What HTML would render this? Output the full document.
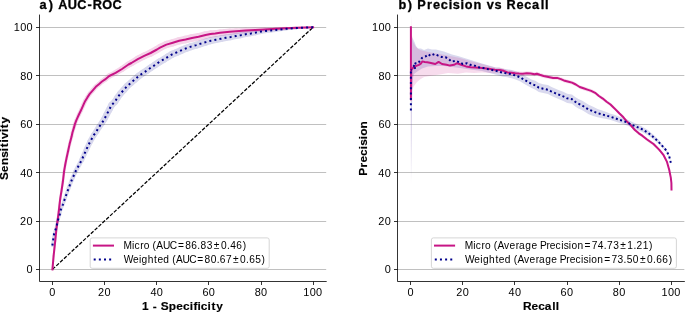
<!DOCTYPE html>
<html><head><meta charset="utf-8"><style>
html,body{margin:0;padding:0;background:#fff;width:685px;height:312px;overflow:hidden}
svg{display:block;will-change:transform}
text{font-family:"Liberation Sans",sans-serif}
</style></head><body>
<svg width="685" height="312" viewBox="0 0 685 312">
<rect width="685" height="312" fill="#fff"/>
<defs>
<clipPath id="cl"><rect x="39.42" y="15.07" width="286.77" height="266.44"/></clipPath>
<clipPath id="cr"><rect x="397.56" y="15.07" width="286.77" height="266.44"/></clipPath>
</defs>
<line x1="39.50" x2="326.19" y1="269.50" y2="269.50" stroke="#b0b0b0" stroke-width="0.8"/>
<line x1="397.50" x2="684.34" y1="269.50" y2="269.50" stroke="#b0b0b0" stroke-width="0.8"/>
<line x1="39.50" x2="326.19" y1="221.50" y2="221.50" stroke="#b0b0b0" stroke-width="0.8"/>
<line x1="397.50" x2="684.34" y1="221.50" y2="221.50" stroke="#b0b0b0" stroke-width="0.8"/>
<line x1="39.50" x2="326.19" y1="172.50" y2="172.50" stroke="#b0b0b0" stroke-width="0.8"/>
<line x1="397.50" x2="684.34" y1="172.50" y2="172.50" stroke="#b0b0b0" stroke-width="0.8"/>
<line x1="39.50" x2="326.19" y1="124.50" y2="124.50" stroke="#b0b0b0" stroke-width="0.8"/>
<line x1="397.50" x2="684.34" y1="124.50" y2="124.50" stroke="#b0b0b0" stroke-width="0.8"/>
<line x1="39.50" x2="326.19" y1="75.50" y2="75.50" stroke="#b0b0b0" stroke-width="0.8"/>
<line x1="397.50" x2="684.34" y1="75.50" y2="75.50" stroke="#b0b0b0" stroke-width="0.8"/>
<line x1="39.50" x2="326.19" y1="27.50" y2="27.50" stroke="#b0b0b0" stroke-width="0.8"/>
<line x1="397.50" x2="684.34" y1="27.50" y2="27.50" stroke="#b0b0b0" stroke-width="0.8"/>
<g clip-path="url(#cl)">
<g opacity="0.18">
<line x1="52.45" y1="269.40" x2="53.60" y2="256.00" stroke="#C71585" stroke-width="2.05" stroke-linecap="round"/>
<line x1="53.60" y1="256.00" x2="55.20" y2="241.20" stroke="#C71585" stroke-width="2.12" stroke-linecap="round"/>
<line x1="55.20" y1="241.20" x2="56.40" y2="229.10" stroke="#C71585" stroke-width="2.19" stroke-linecap="round"/>
<line x1="56.40" y1="229.10" x2="57.50" y2="221.00" stroke="#C71585" stroke-width="2.25" stroke-linecap="round"/>
<line x1="57.50" y1="221.00" x2="58.70" y2="211.80" stroke="#C71585" stroke-width="2.31" stroke-linecap="round"/>
<line x1="58.70" y1="211.80" x2="59.30" y2="206.60" stroke="#C71585" stroke-width="2.35" stroke-linecap="round"/>
<line x1="59.30" y1="206.60" x2="60.20" y2="198.80" stroke="#C71585" stroke-width="2.39" stroke-linecap="round"/>
<line x1="60.20" y1="198.80" x2="61.50" y2="190.80" stroke="#C71585" stroke-width="2.47" stroke-linecap="round"/>
<line x1="61.50" y1="190.80" x2="62.90" y2="181.50" stroke="#C71585" stroke-width="2.58" stroke-linecap="round"/>
<line x1="62.90" y1="181.50" x2="64.10" y2="171.20" stroke="#C71585" stroke-width="2.68" stroke-linecap="round"/>
<line x1="64.10" y1="171.20" x2="65.20" y2="164.80" stroke="#C71585" stroke-width="2.77" stroke-linecap="round"/>
<line x1="65.20" y1="164.80" x2="66.60" y2="157.90" stroke="#C71585" stroke-width="2.87" stroke-linecap="round"/>
<line x1="66.60" y1="157.90" x2="68.10" y2="151.00" stroke="#C71585" stroke-width="2.99" stroke-linecap="round"/>
<line x1="68.10" y1="151.00" x2="69.60" y2="144.10" stroke="#C71585" stroke-width="3.11" stroke-linecap="round"/>
<line x1="69.60" y1="144.10" x2="71.60" y2="136.60" stroke="#C71585" stroke-width="3.25" stroke-linecap="round"/>
<line x1="71.60" y1="136.60" x2="72.40" y2="132.80" stroke="#C71585" stroke-width="3.36" stroke-linecap="round"/>
<line x1="72.40" y1="132.80" x2="74.10" y2="127.10" stroke="#C71585" stroke-width="3.46" stroke-linecap="round"/>
<line x1="74.10" y1="127.10" x2="74.90" y2="124.20" stroke="#C71585" stroke-width="3.56" stroke-linecap="round"/>
<line x1="74.90" y1="124.20" x2="76.40" y2="120.10" stroke="#C71585" stroke-width="3.65" stroke-linecap="round"/>
<line x1="76.40" y1="120.10" x2="78.70" y2="115.00" stroke="#C71585" stroke-width="3.80" stroke-linecap="round"/>
<line x1="78.70" y1="115.00" x2="81.00" y2="110.30" stroke="#C71585" stroke-width="3.99" stroke-linecap="round"/>
<line x1="81.00" y1="110.30" x2="83.30" y2="105.20" stroke="#C71585" stroke-width="4.09" stroke-linecap="round"/>
<line x1="83.30" y1="105.20" x2="85.10" y2="101.20" stroke="#C71585" stroke-width="4.17" stroke-linecap="round"/>
<line x1="85.10" y1="101.20" x2="87.40" y2="97.40" stroke="#C71585" stroke-width="4.25" stroke-linecap="round"/>
<line x1="87.40" y1="97.40" x2="89.70" y2="93.90" stroke="#C71585" stroke-width="4.34" stroke-linecap="round"/>
<line x1="89.70" y1="93.90" x2="92.80" y2="90.30" stroke="#C71585" stroke-width="4.45" stroke-linecap="round"/>
<line x1="92.80" y1="90.30" x2="95.80" y2="86.80" stroke="#C71585" stroke-width="4.57" stroke-linecap="round"/>
<line x1="95.80" y1="86.80" x2="98.90" y2="84.20" stroke="#C71585" stroke-width="4.69" stroke-linecap="round"/>
<line x1="98.90" y1="84.20" x2="102.00" y2="81.50" stroke="#C71585" stroke-width="4.82" stroke-linecap="round"/>
<line x1="102.00" y1="81.50" x2="105.10" y2="79.40" stroke="#C71585" stroke-width="4.94" stroke-linecap="round"/>
<line x1="105.10" y1="79.40" x2="109.20" y2="76.00" stroke="#C71585" stroke-width="5.09" stroke-linecap="round"/>
<line x1="109.20" y1="76.00" x2="115.60" y2="72.80" stroke="#C71585" stroke-width="5.34" stroke-linecap="round"/>
<line x1="115.60" y1="72.80" x2="122.00" y2="69.00" stroke="#C71585" stroke-width="5.73" stroke-linecap="round"/>
<line x1="122.00" y1="69.00" x2="128.50" y2="64.50" stroke="#C71585" stroke-width="6.12" stroke-linecap="round"/>
<line x1="128.50" y1="64.50" x2="131.40" y2="63.00" stroke="#C71585" stroke-width="6.40" stroke-linecap="round"/>
<line x1="131.40" y1="63.00" x2="137.80" y2="59.10" stroke="#C71585" stroke-width="6.68" stroke-linecap="round"/>
<line x1="137.80" y1="59.10" x2="144.20" y2="55.90" stroke="#C71585" stroke-width="7.01" stroke-linecap="round"/>
<line x1="144.20" y1="55.90" x2="150.60" y2="53.00" stroke="#C71585" stroke-width="7.07" stroke-linecap="round"/>
<line x1="150.60" y1="53.00" x2="157.00" y2="49.50" stroke="#C71585" stroke-width="7.14" stroke-linecap="round"/>
<line x1="157.00" y1="49.50" x2="160.00" y2="47.60" stroke="#C71585" stroke-width="7.18" stroke-linecap="round"/>
<line x1="160.00" y1="47.60" x2="166.40" y2="44.60" stroke="#C71585" stroke-width="7.23" stroke-linecap="round"/>
<line x1="166.40" y1="44.60" x2="172.80" y2="42.70" stroke="#C71585" stroke-width="7.30" stroke-linecap="round"/>
<line x1="172.80" y1="42.70" x2="179.20" y2="40.80" stroke="#C71585" stroke-width="7.36" stroke-linecap="round"/>
<line x1="179.20" y1="40.80" x2="185.60" y2="39.50" stroke="#C71585" stroke-width="7.42" stroke-linecap="round"/>
<line x1="185.60" y1="39.50" x2="192.00" y2="38.00" stroke="#C71585" stroke-width="7.49" stroke-linecap="round"/>
<line x1="192.00" y1="38.00" x2="198.50" y2="36.80" stroke="#C71585" stroke-width="7.55" stroke-linecap="round"/>
<line x1="198.50" y1="36.80" x2="205.60" y2="35.00" stroke="#C71585" stroke-width="7.50" stroke-linecap="round"/>
<line x1="205.60" y1="35.00" x2="210.40" y2="34.00" stroke="#C71585" stroke-width="7.20" stroke-linecap="round"/>
<line x1="210.40" y1="34.00" x2="215.20" y2="33.50" stroke="#C71585" stroke-width="6.96" stroke-linecap="round"/>
<line x1="215.20" y1="33.50" x2="220.00" y2="32.80" stroke="#C71585" stroke-width="6.72" stroke-linecap="round"/>
<line x1="220.00" y1="32.80" x2="224.80" y2="32.20" stroke="#C71585" stroke-width="6.48" stroke-linecap="round"/>
<line x1="224.80" y1="32.20" x2="229.70" y2="31.70" stroke="#C71585" stroke-width="6.24" stroke-linecap="round"/>
<line x1="229.70" y1="31.70" x2="236.00" y2="31.20" stroke="#C71585" stroke-width="5.96" stroke-linecap="round"/>
<line x1="236.00" y1="31.20" x2="245.60" y2="30.40" stroke="#C71585" stroke-width="5.55" stroke-linecap="round"/>
<line x1="245.60" y1="30.40" x2="255.20" y2="29.90" stroke="#C71585" stroke-width="4.91" stroke-linecap="round"/>
<line x1="255.20" y1="29.90" x2="264.80" y2="29.40" stroke="#C71585" stroke-width="4.27" stroke-linecap="round"/>
<line x1="264.80" y1="29.40" x2="276.00" y2="28.70" stroke="#C71585" stroke-width="3.57" stroke-linecap="round"/>
<line x1="276.00" y1="28.70" x2="286.30" y2="28.20" stroke="#C71585" stroke-width="2.86" stroke-linecap="round"/>
<line x1="286.30" y1="28.20" x2="296.50" y2="27.80" stroke="#C71585" stroke-width="2.17" stroke-linecap="round"/>
<line x1="296.50" y1="27.80" x2="306.80" y2="27.40" stroke="#C71585" stroke-width="1.45" stroke-linecap="round"/>
<line x1="306.80" y1="27.40" x2="313.10" y2="27.20" stroke="#C71585" stroke-width="0.68" stroke-linecap="round"/>
</g>
<g opacity="0.15">
<line x1="52.35" y1="245.50" x2="53.30" y2="238.90" stroke="#00008B" stroke-width="2.83" stroke-linecap="round"/>
<line x1="53.30" y1="238.90" x2="54.10" y2="233.90" stroke="#00008B" stroke-width="2.87" stroke-linecap="round"/>
<line x1="54.10" y1="233.90" x2="56.00" y2="228.30" stroke="#00008B" stroke-width="2.92" stroke-linecap="round"/>
<line x1="56.00" y1="228.30" x2="57.10" y2="223.70" stroke="#00008B" stroke-width="2.98" stroke-linecap="round"/>
<line x1="57.10" y1="223.70" x2="58.30" y2="219.00" stroke="#00008B" stroke-width="3.03" stroke-linecap="round"/>
<line x1="58.30" y1="219.00" x2="59.80" y2="214.50" stroke="#00008B" stroke-width="3.08" stroke-linecap="round"/>
<line x1="59.80" y1="214.50" x2="60.90" y2="209.50" stroke="#00008B" stroke-width="3.13" stroke-linecap="round"/>
<line x1="60.90" y1="209.50" x2="62.90" y2="204.50" stroke="#00008B" stroke-width="3.20" stroke-linecap="round"/>
<line x1="62.90" y1="204.50" x2="64.50" y2="199.80" stroke="#00008B" stroke-width="3.36" stroke-linecap="round"/>
<line x1="64.50" y1="199.80" x2="66.20" y2="195.00" stroke="#00008B" stroke-width="3.51" stroke-linecap="round"/>
<line x1="66.20" y1="195.00" x2="68.30" y2="189.00" stroke="#00008B" stroke-width="3.68" stroke-linecap="round"/>
<line x1="68.30" y1="189.00" x2="71.80" y2="180.00" stroke="#00008B" stroke-width="3.94" stroke-linecap="round"/>
<line x1="71.80" y1="180.00" x2="75.50" y2="171.50" stroke="#00008B" stroke-width="4.28" stroke-linecap="round"/>
<line x1="75.50" y1="171.50" x2="81.70" y2="160.00" stroke="#00008B" stroke-width="4.69" stroke-linecap="round"/>
<line x1="81.70" y1="160.00" x2="86.50" y2="149.20" stroke="#00008B" stroke-width="5.13" stroke-linecap="round"/>
<line x1="86.50" y1="149.20" x2="90.20" y2="141.50" stroke="#00008B" stroke-width="5.47" stroke-linecap="round"/>
<line x1="90.20" y1="141.50" x2="93.80" y2="135.10" stroke="#00008B" stroke-width="5.70" stroke-linecap="round"/>
<line x1="93.80" y1="135.10" x2="96.30" y2="131.60" stroke="#00008B" stroke-width="5.85" stroke-linecap="round"/>
<line x1="96.30" y1="131.60" x2="98.90" y2="127.20" stroke="#00008B" stroke-width="5.98" stroke-linecap="round"/>
<line x1="98.90" y1="127.20" x2="101.80" y2="123.20" stroke="#00008B" stroke-width="6.12" stroke-linecap="round"/>
<line x1="101.80" y1="123.20" x2="104.30" y2="119.10" stroke="#00008B" stroke-width="6.25" stroke-linecap="round"/>
<line x1="104.30" y1="119.10" x2="106.80" y2="114.30" stroke="#00008B" stroke-width="6.38" stroke-linecap="round"/>
<line x1="106.80" y1="114.30" x2="109.20" y2="109.80" stroke="#00008B" stroke-width="6.50" stroke-linecap="round"/>
<line x1="109.20" y1="109.80" x2="111.50" y2="105.20" stroke="#00008B" stroke-width="6.60" stroke-linecap="round"/>
<line x1="111.50" y1="105.20" x2="114.90" y2="101.80" stroke="#00008B" stroke-width="6.62" stroke-linecap="round"/>
<line x1="114.90" y1="101.80" x2="117.60" y2="97.40" stroke="#00008B" stroke-width="6.64" stroke-linecap="round"/>
<line x1="117.60" y1="97.40" x2="120.50" y2="93.60" stroke="#00008B" stroke-width="6.66" stroke-linecap="round"/>
<line x1="120.50" y1="93.60" x2="124.00" y2="89.70" stroke="#00008B" stroke-width="6.68" stroke-linecap="round"/>
<line x1="124.00" y1="89.70" x2="127.20" y2="86.00" stroke="#00008B" stroke-width="6.70" stroke-linecap="round"/>
<line x1="127.20" y1="86.00" x2="130.80" y2="83.00" stroke="#00008B" stroke-width="6.73" stroke-linecap="round"/>
<line x1="130.80" y1="83.00" x2="134.60" y2="79.60" stroke="#00008B" stroke-width="6.75" stroke-linecap="round"/>
<line x1="134.60" y1="79.60" x2="138.50" y2="76.20" stroke="#00008B" stroke-width="6.78" stroke-linecap="round"/>
<line x1="138.50" y1="76.20" x2="142.70" y2="73.20" stroke="#00008B" stroke-width="6.80" stroke-linecap="round"/>
<line x1="142.70" y1="73.20" x2="146.80" y2="70.60" stroke="#00008B" stroke-width="6.83" stroke-linecap="round"/>
<line x1="146.80" y1="70.60" x2="150.60" y2="67.80" stroke="#00008B" stroke-width="6.86" stroke-linecap="round"/>
<line x1="150.60" y1="67.80" x2="155.10" y2="64.90" stroke="#00008B" stroke-width="6.89" stroke-linecap="round"/>
<line x1="155.10" y1="64.90" x2="159.40" y2="61.90" stroke="#00008B" stroke-width="6.92" stroke-linecap="round"/>
<line x1="159.40" y1="61.90" x2="163.80" y2="59.40" stroke="#00008B" stroke-width="6.94" stroke-linecap="round"/>
<line x1="163.80" y1="59.40" x2="168.00" y2="56.80" stroke="#00008B" stroke-width="6.97" stroke-linecap="round"/>
<line x1="168.00" y1="56.80" x2="172.20" y2="54.30" stroke="#00008B" stroke-width="7.00" stroke-linecap="round"/>
<line x1="172.20" y1="54.30" x2="176.70" y2="52.40" stroke="#00008B" stroke-width="7.03" stroke-linecap="round"/>
<line x1="176.70" y1="52.40" x2="181.20" y2="50.40" stroke="#00008B" stroke-width="7.06" stroke-linecap="round"/>
<line x1="181.20" y1="50.40" x2="186.30" y2="48.30" stroke="#00008B" stroke-width="7.09" stroke-linecap="round"/>
<line x1="186.30" y1="48.30" x2="191.00" y2="46.60" stroke="#00008B" stroke-width="7.12" stroke-linecap="round"/>
<line x1="191.00" y1="46.60" x2="196.30" y2="45.10" stroke="#00008B" stroke-width="7.16" stroke-linecap="round"/>
<line x1="196.30" y1="45.10" x2="200.80" y2="43.60" stroke="#00008B" stroke-width="7.19" stroke-linecap="round"/>
<line x1="200.80" y1="43.60" x2="205.80" y2="42.10" stroke="#00008B" stroke-width="7.10" stroke-linecap="round"/>
<line x1="205.80" y1="42.10" x2="210.90" y2="40.70" stroke="#00008B" stroke-width="6.95" stroke-linecap="round"/>
<line x1="210.90" y1="40.70" x2="215.90" y2="39.70" stroke="#00008B" stroke-width="6.80" stroke-linecap="round"/>
<line x1="215.90" y1="39.70" x2="220.80" y2="38.80" stroke="#00008B" stroke-width="6.65" stroke-linecap="round"/>
<line x1="220.80" y1="38.80" x2="225.80" y2="37.80" stroke="#00008B" stroke-width="6.50" stroke-linecap="round"/>
<line x1="225.80" y1="37.80" x2="230.80" y2="37.00" stroke="#00008B" stroke-width="6.35" stroke-linecap="round"/>
<line x1="230.80" y1="37.00" x2="236.00" y2="36.00" stroke="#00008B" stroke-width="6.20" stroke-linecap="round"/>
<line x1="236.00" y1="36.00" x2="240.80" y2="35.20" stroke="#00008B" stroke-width="6.05" stroke-linecap="round"/>
<line x1="240.80" y1="35.20" x2="245.80" y2="34.20" stroke="#00008B" stroke-width="5.82" stroke-linecap="round"/>
<line x1="245.80" y1="34.20" x2="250.90" y2="33.50" stroke="#00008B" stroke-width="5.54" stroke-linecap="round"/>
<line x1="250.90" y1="33.50" x2="255.90" y2="32.60" stroke="#00008B" stroke-width="5.26" stroke-linecap="round"/>
<line x1="255.90" y1="32.60" x2="261.00" y2="31.50" stroke="#00008B" stroke-width="4.98" stroke-linecap="round"/>
<line x1="261.00" y1="31.50" x2="266.00" y2="30.90" stroke="#00008B" stroke-width="4.69" stroke-linecap="round"/>
<line x1="266.00" y1="30.90" x2="271.10" y2="30.40" stroke="#00008B" stroke-width="4.41" stroke-linecap="round"/>
<line x1="271.10" y1="30.40" x2="276.00" y2="29.90" stroke="#00008B" stroke-width="4.14" stroke-linecap="round"/>
<line x1="276.00" y1="29.90" x2="286.30" y2="28.80" stroke="#00008B" stroke-width="3.57" stroke-linecap="round"/>
<line x1="286.30" y1="28.80" x2="296.50" y2="28.10" stroke="#00008B" stroke-width="2.72" stroke-linecap="round"/>
<line x1="296.50" y1="28.10" x2="306.80" y2="27.50" stroke="#00008B" stroke-width="1.82" stroke-linecap="round"/>
<line x1="306.80" y1="27.50" x2="313.10" y2="27.20" stroke="#00008B" stroke-width="0.93" stroke-linecap="round"/>
</g>
<line x1="52.45" y1="269.4" x2="313.15" y2="27.18" stroke="#000" stroke-width="1.25" stroke-dasharray="3.66,1.58"/>
<polyline points="52.45,269.40 53.60,256.00 55.20,241.20 56.40,229.10 57.50,221.00 58.70,211.80 59.30,206.60 60.20,198.80 61.50,190.80 62.90,181.50 64.10,171.20 65.20,164.80 66.60,157.90 68.10,151.00 69.60,144.10 71.60,136.60 72.40,132.80 74.10,127.10 74.90,124.20 76.40,120.10 78.70,115.00 81.00,110.30 83.30,105.20 85.10,101.20 87.40,97.40 89.70,93.90 92.80,90.30 95.80,86.80 98.90,84.20 102.00,81.50 105.10,79.40 109.20,76.00 115.60,72.80 122.00,69.00 128.50,64.50 131.40,63.00 137.80,59.10 144.20,55.90 150.60,53.00 157.00,49.50 160.00,47.60 166.40,44.60 172.80,42.70 179.20,40.80 185.60,39.50 192.00,38.00 198.50,36.80 205.60,35.00 210.40,34.00 215.20,33.50 220.00,32.80 224.80,32.20 229.70,31.70 236.00,31.20 245.60,30.40 255.20,29.90 264.80,29.40 276.00,28.70 286.30,28.20 296.50,27.80 306.80,27.40 313.10,27.20" fill="none" stroke="#C71585" stroke-width="2" stroke-linejoin="round" stroke-linecap="square"/>
<polyline points="52.35,245.50 53.30,238.90 54.10,233.90 56.00,228.30 57.10,223.70 58.30,219.00 59.80,214.50 60.90,209.50 62.90,204.50 64.50,199.80 66.20,195.00 68.30,189.00 71.80,180.00 75.50,171.50 81.70,160.00 86.50,149.20 90.20,141.50 93.80,135.10 96.30,131.60 98.90,127.20 101.80,123.20 104.30,119.10 106.80,114.30 109.20,109.80 111.50,105.20 114.90,101.80 117.60,97.40 120.50,93.60 124.00,89.70 127.20,86.00 130.80,83.00 134.60,79.60 138.50,76.20 142.70,73.20 146.80,70.60 150.60,67.80 155.10,64.90 159.40,61.90 163.80,59.40 168.00,56.80 172.20,54.30 176.70,52.40 181.20,50.40 186.30,48.30 191.00,46.60 196.30,45.10 200.80,43.60 205.80,42.10 210.90,40.70 215.90,39.70 220.80,38.80 225.80,37.80 230.80,37.00 236.00,36.00 240.80,35.20 245.80,34.20 250.90,33.50 255.90,32.60 261.00,31.50 266.00,30.90 271.10,30.40 276.00,29.90 286.30,28.80 296.50,28.10 306.80,27.50 313.10,27.20" fill="none" stroke="#00008B" stroke-width="2" stroke-dasharray="2,3.15"/>
</g>
<g clip-path="url(#cr)">
<polygon points="411.20,36.00 412.00,37.00 413.00,39.00 414.50,42.00 416.00,46.00 418.00,48.50 421.00,48.50 424.00,50.00 428.00,48.50 432.00,49.50 436.00,49.50 440.00,50.50 444.00,51.50 448.00,53.00 452.00,54.50 458.00,56.00 466.00,58.50 474.00,61.00 482.00,63.50 490.00,65.80 496.00,67.40 498.70,67.57 502.90,68.71 507.50,69.24 511.80,70.08 516.20,71.51 520.50,73.14 523.50,75.10 527.50,77.14 531.50,79.39 535.40,80.87 538.80,83.06 543.10,84.18 548.00,85.11 551.10,86.69 555.60,88.67 559.20,90.15 563.30,91.73 567.20,93.71 572.00,94.49 575.20,97.07 578.40,98.96 582.30,100.84 585.50,102.82 588.70,104.71 593.20,106.86 597.60,108.91 602.10,110.57 606.40,112.11 609.90,113.39 614.40,114.85 619.50,116.81 624.00,118.16 628.30,120.11 632.40,122.06 636.80,124.01 641.60,126.16 647.90,130.05 653.50,134.85 658.40,139.61 662.50,144.41 666.50,149.24 669.20,155.07 671.00,162.42 671.00,164.58 669.20,157.53 666.50,152.16 662.50,147.99 658.40,143.79 653.50,139.55 647.90,135.35 641.60,131.84 636.80,129.79 632.40,127.94 628.30,126.09 624.00,124.24 619.50,122.99 614.40,121.15 609.90,119.81 606.40,119.09 602.10,118.23 597.60,117.29 593.20,115.94 588.70,114.29 585.50,112.35 582.30,110.32 578.40,108.38 575.20,106.45 572.00,103.82 567.20,102.97 563.30,100.93 559.20,99.29 555.60,97.76 551.10,95.71 548.00,94.08 543.10,93.08 538.80,91.89 535.40,89.65 531.50,88.12 527.50,85.77 523.50,83.62 520.50,81.58 516.20,79.83 511.80,78.28 507.50,77.33 502.90,76.67 498.70,75.42 496.00,74.80 482.00,71.00 470.00,69.50 460.00,68.00 452.00,67.00 444.00,66.00 436.00,66.00 428.00,66.50 422.00,68.50 418.00,71.00 414.00,74.00 413.00,78.00 411.90,110.00 411.20,183.00" fill="#00008B" fill-opacity="0.15"/>
<polygon points="411.20,15.00 412.00,35.00 413.00,42.00 416.00,47.00 420.00,50.00 428.00,52.00 440.00,54.00 450.00,56.00 460.00,58.00 470.00,61.00 482.00,64.00 496.00,67.80 499.80,67.46 503.70,68.45 507.50,70.13 511.40,70.61 515.20,71.10 519.10,71.48 522.90,71.71 526.80,71.22 530.60,71.53 534.50,72.34 536.90,71.84 539.80,72.85 543.60,74.06 548.40,74.97 553.20,75.99 557.10,76.00 560.90,77.21 564.80,78.92 569.60,80.13 572.00,80.74 575.80,82.65 579.70,85.16 583.50,86.47 587.40,87.78 591.20,89.09 595.10,91.00 598.90,94.21 602.80,96.82 606.60,100.03 610.50,102.74 612.50,104.74 615.70,107.85 619.50,111.76 623.40,115.57 627.20,120.08 631.10,123.89 634.90,128.40 638.80,131.61 642.60,134.22 646.70,137.63 653.50,142.35 659.10,147.97 663.60,153.58 667.00,160.29 669.20,168.19 670.80,176.00 671.40,181.40 671.50,187.80 671.50,191.00 671.40,184.60 670.80,179.20 669.20,171.41 667.00,163.51 663.60,156.82 659.10,151.23 653.50,145.65 646.70,140.97 642.60,137.58 638.80,134.99 634.90,131.80 631.10,127.31 627.20,123.52 623.40,119.03 619.50,115.24 615.70,111.35 612.50,108.26 610.50,106.26 606.60,103.57 602.80,100.38 598.90,97.79 595.10,94.60 591.20,92.71 587.40,91.42 583.50,90.13 579.70,88.84 575.80,86.35 572.00,84.46 569.60,83.87 564.80,82.68 560.90,80.99 557.10,79.80 553.20,79.81 548.40,78.83 543.60,77.94 539.80,76.75 536.90,75.76 534.50,76.26 530.60,75.47 526.80,75.18 522.90,75.69 519.10,75.55 515.20,75.47 511.40,75.29 507.50,75.11 503.70,73.72 499.80,73.04 496.00,73.30 490.00,73.00 482.00,72.50 474.00,73.00 466.00,72.50 458.00,73.70 448.00,73.00 440.00,74.50 430.00,76.00 424.00,77.00 420.00,79.50 417.00,82.00 414.00,86.00 412.00,90.00 411.20,100.00" fill="#C71585" fill-opacity="0.15"/>
<linearGradient id="fade" x1="0" y1="0" x2="0" y2="1"><stop offset="0" stop-color="#8a5aa8" stop-opacity="0.22"/><stop offset="1" stop-color="#8a5aa8" stop-opacity="0"/></linearGradient>
<rect x="410.6" y="99" width="1.2" height="86" fill="url(#fade)"/>
<polyline points="410.90,27.20 410.90,99.50 411.30,70.00 413.80,66.80 416.30,65.90 418.90,64.90 420.80,63.60 422.40,61.40 424.70,62.00 427.20,62.30 429.80,62.70 432.00,63.20 435.30,64.00 438.60,61.90 442.00,64.00 446.50,64.80 450.00,65.60 454.00,64.80 457.20,63.20 461.20,64.80 466.00,66.40 470.80,67.20 475.60,67.60 482.00,68.00 488.50,68.80 494.90,69.80 499.80,69.90 503.70,70.80 507.50,72.40 511.40,72.80 515.20,73.20 519.10,73.50 522.90,73.70 526.80,73.20 530.60,73.50 534.50,74.30 536.90,73.80 539.80,74.80 543.60,76.00 548.40,76.90 553.20,77.90 557.10,77.90 560.90,79.10 564.80,80.80 569.60,82.00 572.00,82.60 575.80,84.50 579.70,87.00 583.50,88.30 587.40,89.60 591.20,90.90 595.10,92.80 598.90,96.00 602.80,98.60 606.60,101.80 610.50,104.50 612.50,106.50 615.70,109.60 619.50,113.50 623.40,117.30 627.20,121.80 631.10,125.60 634.90,130.10 638.80,133.30 642.60,135.90 646.70,139.30 653.50,144.00 659.10,149.60 663.60,155.20 667.00,161.90 669.20,169.80 670.80,177.60 671.40,183.00 671.50,189.40" fill="none" stroke="#C71585" stroke-width="2" stroke-linejoin="round" stroke-linecap="square"/>
<polyline points="410.90,110.50 410.90,70.00" fill="none" stroke="#00008B" stroke-width="2" stroke-dasharray="2,3.3"/>
<polyline points="410.90,70.00 412.50,69.10 414.40,68.10 416.30,67.80 412.80,64.90 415.70,63.30 418.30,63.00 419.90,60.70 422.10,57.80 425.30,56.60 428.50,54.30 430.40,55.90 434.40,54.00 437.70,55.40 441.50,56.90 445.70,57.30 448.90,59.20 451.60,61.60 455.60,60.80 459.60,62.40 462.80,64.00 466.80,63.20 470.00,64.80 474.00,65.30 478.00,67.20 482.00,67.60 486.00,68.80 490.00,69.60 494.00,70.40 498.70,71.60 502.90,72.80 507.50,73.40 511.80,74.30 516.20,75.80 520.50,77.50 523.50,79.50 527.50,81.60 531.50,83.90 535.40,85.40 538.80,87.60 543.10,88.75 548.00,89.70 551.10,91.30 555.60,93.30 559.20,94.80 563.30,96.40 567.20,98.40 572.00,99.20 575.20,101.80 578.40,103.70 582.30,105.60 585.50,107.60 588.70,109.50 593.20,111.40 597.60,113.10 602.10,114.40 606.40,115.60 609.90,116.60 614.40,118.00 619.50,119.90 624.00,121.20 628.30,123.10 632.40,125.00 636.80,126.90 641.60,129.00 647.90,132.70 653.50,137.20 658.40,141.70 662.50,146.20 666.50,150.70 669.20,156.30 671.00,163.50" fill="none" stroke="#00008B" stroke-width="2" stroke-dasharray="2,2.5" stroke-dashoffset="1"/>
</g>
<path d="M39.50,15.07V281.50H326.19" fill="none" stroke="#000" stroke-width="0.8" stroke-linecap="square"/>
<line x1="36.00" x2="39.50" y1="269.50" y2="269.50" stroke="#000" stroke-width="0.8"/>
<line x1="52.50" x2="52.50" y1="281.50" y2="285.00" stroke="#000" stroke-width="0.8"/>
<line x1="36.00" x2="39.50" y1="221.50" y2="221.50" stroke="#000" stroke-width="0.8"/>
<line x1="104.50" x2="104.50" y1="281.50" y2="285.00" stroke="#000" stroke-width="0.8"/>
<line x1="36.00" x2="39.50" y1="172.50" y2="172.50" stroke="#000" stroke-width="0.8"/>
<line x1="156.50" x2="156.50" y1="281.50" y2="285.00" stroke="#000" stroke-width="0.8"/>
<line x1="36.00" x2="39.50" y1="124.50" y2="124.50" stroke="#000" stroke-width="0.8"/>
<line x1="208.50" x2="208.50" y1="281.50" y2="285.00" stroke="#000" stroke-width="0.8"/>
<line x1="36.00" x2="39.50" y1="75.50" y2="75.50" stroke="#000" stroke-width="0.8"/>
<line x1="261.50" x2="261.50" y1="281.50" y2="285.00" stroke="#000" stroke-width="0.8"/>
<line x1="36.00" x2="39.50" y1="27.50" y2="27.50" stroke="#000" stroke-width="0.8"/>
<line x1="313.50" x2="313.50" y1="281.50" y2="285.00" stroke="#000" stroke-width="0.8"/>
<path d="M397.50,15.07V281.50H684.34" fill="none" stroke="#000" stroke-width="0.8" stroke-linecap="square"/>
<line x1="394.00" x2="397.50" y1="269.50" y2="269.50" stroke="#000" stroke-width="0.8"/>
<line x1="410.50" x2="410.50" y1="281.50" y2="285.00" stroke="#000" stroke-width="0.8"/>
<line x1="394.00" x2="397.50" y1="221.50" y2="221.50" stroke="#000" stroke-width="0.8"/>
<line x1="462.50" x2="462.50" y1="281.50" y2="285.00" stroke="#000" stroke-width="0.8"/>
<line x1="394.00" x2="397.50" y1="172.50" y2="172.50" stroke="#000" stroke-width="0.8"/>
<line x1="514.50" x2="514.50" y1="281.50" y2="285.00" stroke="#000" stroke-width="0.8"/>
<line x1="394.00" x2="397.50" y1="124.50" y2="124.50" stroke="#000" stroke-width="0.8"/>
<line x1="567.50" x2="567.50" y1="281.50" y2="285.00" stroke="#000" stroke-width="0.8"/>
<line x1="394.00" x2="397.50" y1="75.50" y2="75.50" stroke="#000" stroke-width="0.8"/>
<line x1="619.50" x2="619.50" y1="281.50" y2="285.00" stroke="#000" stroke-width="0.8"/>
<line x1="394.00" x2="397.50" y1="27.50" y2="27.50" stroke="#000" stroke-width="0.8"/>
<line x1="671.50" x2="671.50" y1="281.50" y2="285.00" stroke="#000" stroke-width="0.8"/>
<text font-family="Liberation Sans, sans-serif" transform="translate(0.000,273.400) scale(1.0600,1)" x="25.09" y="0" font-size="10.300" fill="#000">0</text>
<text font-family="Liberation Sans, sans-serif" transform="translate(0.000,295.700) scale(1.0600,1)" x="46.48" y="0" font-size="10.300" fill="#000">0</text>
<text font-family="Liberation Sans, sans-serif" transform="translate(0.000,224.960) scale(1.0600,1)" x="18.96 25.09" y="0" font-size="10.300" fill="#000">20</text>
<text font-family="Liberation Sans, sans-serif" transform="translate(0.000,295.700) scale(1.0600,1)" x="92.50 98.63" y="0" font-size="10.300" fill="#000">20</text>
<text font-family="Liberation Sans, sans-serif" transform="translate(0.000,176.510) scale(1.0600,1)" x="19.08 25.09" y="0" font-size="10.300" fill="#000">40</text>
<text font-family="Liberation Sans, sans-serif" transform="translate(0.000,295.700) scale(1.0600,1)" x="141.93 147.94" y="0" font-size="10.300" fill="#000">40</text>
<text font-family="Liberation Sans, sans-serif" transform="translate(0.000,128.070) scale(1.0600,1)" x="19.09 25.09" y="0" font-size="10.300" fill="#000">60</text>
<text font-family="Liberation Sans, sans-serif" transform="translate(0.000,295.700) scale(1.0600,1)" x="191.02 197.03" y="0" font-size="10.300" fill="#000">60</text>
<text font-family="Liberation Sans, sans-serif" transform="translate(0.000,79.620) scale(1.0600,1)" x="19.09 25.09" y="0" font-size="10.300" fill="#000">80</text>
<text font-family="Liberation Sans, sans-serif" transform="translate(0.000,295.700) scale(1.0600,1)" x="240.22 246.23" y="0" font-size="10.300" fill="#000">80</text>
<text font-family="Liberation Sans, sans-serif" transform="translate(0.000,31.180) scale(1.0600,1)" x="13.04 19.09 25.09" y="0" font-size="10.300" fill="#000">100</text>
<text font-family="Liberation Sans, sans-serif" transform="translate(0.000,295.700) scale(1.0600,1)" x="286.16 292.22 298.22" y="0" font-size="10.300" fill="#000">100</text>
<text font-family="Liberation Sans, sans-serif" transform="translate(0.000,273.400) scale(1.0600,1)" x="362.97" y="0" font-size="10.300" fill="#000">0</text>
<text font-family="Liberation Sans, sans-serif" transform="translate(0.000,295.700) scale(1.0600,1)" x="384.36" y="0" font-size="10.300" fill="#000">0</text>
<text font-family="Liberation Sans, sans-serif" transform="translate(0.000,224.960) scale(1.0600,1)" x="356.84 362.97" y="0" font-size="10.300" fill="#000">20</text>
<text font-family="Liberation Sans, sans-serif" transform="translate(0.000,295.700) scale(1.0600,1)" x="430.37 436.51" y="0" font-size="10.300" fill="#000">20</text>
<text font-family="Liberation Sans, sans-serif" transform="translate(0.000,176.510) scale(1.0600,1)" x="356.96 362.97" y="0" font-size="10.300" fill="#000">40</text>
<text font-family="Liberation Sans, sans-serif" transform="translate(0.000,295.700) scale(1.0600,1)" x="479.81 485.82" y="0" font-size="10.300" fill="#000">40</text>
<text font-family="Liberation Sans, sans-serif" transform="translate(0.000,128.070) scale(1.0600,1)" x="356.97 362.97" y="0" font-size="10.300" fill="#000">60</text>
<text font-family="Liberation Sans, sans-serif" transform="translate(0.000,295.700) scale(1.0600,1)" x="528.90 534.90" y="0" font-size="10.300" fill="#000">60</text>
<text font-family="Liberation Sans, sans-serif" transform="translate(0.000,79.620) scale(1.0600,1)" x="356.97 362.97" y="0" font-size="10.300" fill="#000">80</text>
<text font-family="Liberation Sans, sans-serif" transform="translate(0.000,295.700) scale(1.0600,1)" x="578.10 584.10" y="0" font-size="10.300" fill="#000">80</text>
<text font-family="Liberation Sans, sans-serif" transform="translate(0.000,31.180) scale(1.0600,1)" x="350.91 356.97 362.97" y="0" font-size="10.300" fill="#000">100</text>
<text font-family="Liberation Sans, sans-serif" transform="translate(0.000,295.700) scale(1.0600,1)" x="624.04 630.09 636.09" y="0" font-size="10.300" fill="#000">100</text>
<text font-family="Liberation Sans, sans-serif" transform="translate(0.000,9.100) scale(1.0200,1)" x="38.70 47.79 52.42 57.00 66.42 75.81 85.79 90.83 100.35 110.31" y="0" font-size="12.480" font-weight="bold" fill="#000" stroke="#000" stroke-width="0.300" stroke-linejoin="round">a) AUC-ROC</text>
<text font-family="Liberation Sans, sans-serif" transform="translate(0.000,9.100) scale(1.0200,1)" x="390.72 399.85 404.47 409.20 418.55 424.46 432.14 439.83 443.91 451.36 455.62 464.21 472.39 477.21 484.93 492.00 496.66 506.39 514.06 521.62 530.05 534.26" y="0" font-size="12.480" font-weight="bold" fill="#000" stroke="#000" stroke-width="0.300" stroke-linejoin="round">b) Precision vs Recall</text>
<text font-family="Liberation Sans, sans-serif" transform="translate(0.000,309.800) scale(1.1000,1)" x="129.01 135.37 138.95 142.75 146.04 153.31 160.25 166.29 172.48 175.98 179.65 182.52 188.71 192.33 196.61" y="0" font-size="10.812" font-weight="bold" fill="#000" stroke="#000" stroke-width="0.150" stroke-linejoin="round">1 - Specificity</text>
<text font-family="Liberation Sans, sans-serif" transform="translate(0.000,309.800) scale(1.1000,1)" x="475.40 483.17 489.22 495.16 501.96 505.29" y="0" font-size="10.812" font-weight="bold" fill="#000" stroke="#000" stroke-width="0.150" stroke-linejoin="round">Recall</text>
<text font-family="Liberation Sans, sans-serif" transform="translate(8.100,179.200) rotate(-90) scale(1.1000,1)" x="-0.80 6.42 12.84 19.44 25.40 28.99 33.28 36.56 42.82 46.40 50.64" y="0" font-size="10.812" font-weight="bold" fill="#000" stroke="#000" stroke-width="0.150" stroke-linejoin="round">Sensitivity</text>
<text font-family="Liberation Sans, sans-serif" transform="translate(366.700,174.700) rotate(-90) scale(1.1000,1)" x="-0.90 6.53 11.09 17.08 23.24 26.28 32.25 35.40 42.11" y="0" font-size="10.812" font-weight="bold" fill="#000" stroke="#000" stroke-width="0.150" stroke-linejoin="round">Precision</text>
<rect x="90.20" y="237.90" width="179.00" height="30.40" rx="2" ry="2" fill="#fff" fill-opacity="0.8" stroke="#cccccc" stroke-opacity="0.8" stroke-width="1"/>
<line x1="93.90" x2="113.00" y1="245.6" y2="245.6" stroke="#C71585" stroke-width="2" stroke-linecap="square"/>
<line x1="93.70" x2="113.50" y1="259.6" y2="259.6" stroke="#00008B" stroke-width="2" stroke-dasharray="2,3.15"/>
<text font-family="Liberation Sans, sans-serif" transform="translate(0.000,248.900) scale(1.0200,1)" x="121.05 129.54 131.95 137.63 140.97 146.65 149.59 153.27 159.70 166.42 174.45 181.57 187.60 193.50 196.64 202.68 209.68 216.63 222.54 225.67 231.71 237.94" y="0" font-size="9.991" fill="#000">Micro (AUC=86.83±0.46)</text>
<text font-family="Liberation Sans, sans-serif" transform="translate(0.000,262.900) scale(1.0200,1)" x="121.39 130.33 136.19 138.74 144.75 150.95 154.33 160.13 165.95 168.85 172.49 178.86 185.52 193.49 200.56 206.53 212.41 215.51 221.46 228.44 235.33 241.21 244.31 250.24 256.48" y="0" font-size="9.991" fill="#000">Weighted (AUC=80.67±0.65)</text>
<rect x="431.40" y="237.90" width="245.00" height="30.40" rx="2" ry="2" fill="#fff" fill-opacity="0.8" stroke="#cccccc" stroke-opacity="0.8" stroke-width="1"/>
<line x1="435.00" x2="454.10" y1="245.6" y2="245.6" stroke="#C71585" stroke-width="2" stroke-linecap="square"/>
<line x1="434.80" x2="454.60" y1="259.6" y2="259.6" stroke="#00008B" stroke-width="2" stroke-dasharray="2,3.15"/>
<text font-family="Liberation Sans, sans-serif" transform="translate(0.000,248.900) scale(1.0200,1)" x="455.56 464.03 466.44 472.12 475.45 481.12 484.06 487.73 494.04 499.50 505.63 508.81 515.02 521.02 526.68 529.36 535.70 539.07 544.73 550.16 552.60 557.71 560.24 566.15 572.97 580.05 586.09 592.00 595.10 601.16 608.15 615.04 621.00 623.99 630.09 636.37" y="0" font-size="9.991" fill="#000">Micro (Average Precision=74.73±1.21)</text>
<text font-family="Liberation Sans, sans-serif" transform="translate(0.000,262.900) scale(1.0200,1)" x="456.01 464.99 470.86 473.43 479.47 485.69 489.09 494.91 500.74 503.67 507.33 513.62 519.07 525.19 528.36 534.55 540.53 546.19 548.85 555.18 558.54 564.18 569.60 572.03 577.14 579.66 585.55 592.34 599.41 605.45 611.33 614.40 620.45 627.43 634.36 640.26 643.37 649.38 655.59" y="0" font-size="9.991" fill="#000">Weighted (Average Precision=73.50±0.66)</text>
</svg>
</body></html>
